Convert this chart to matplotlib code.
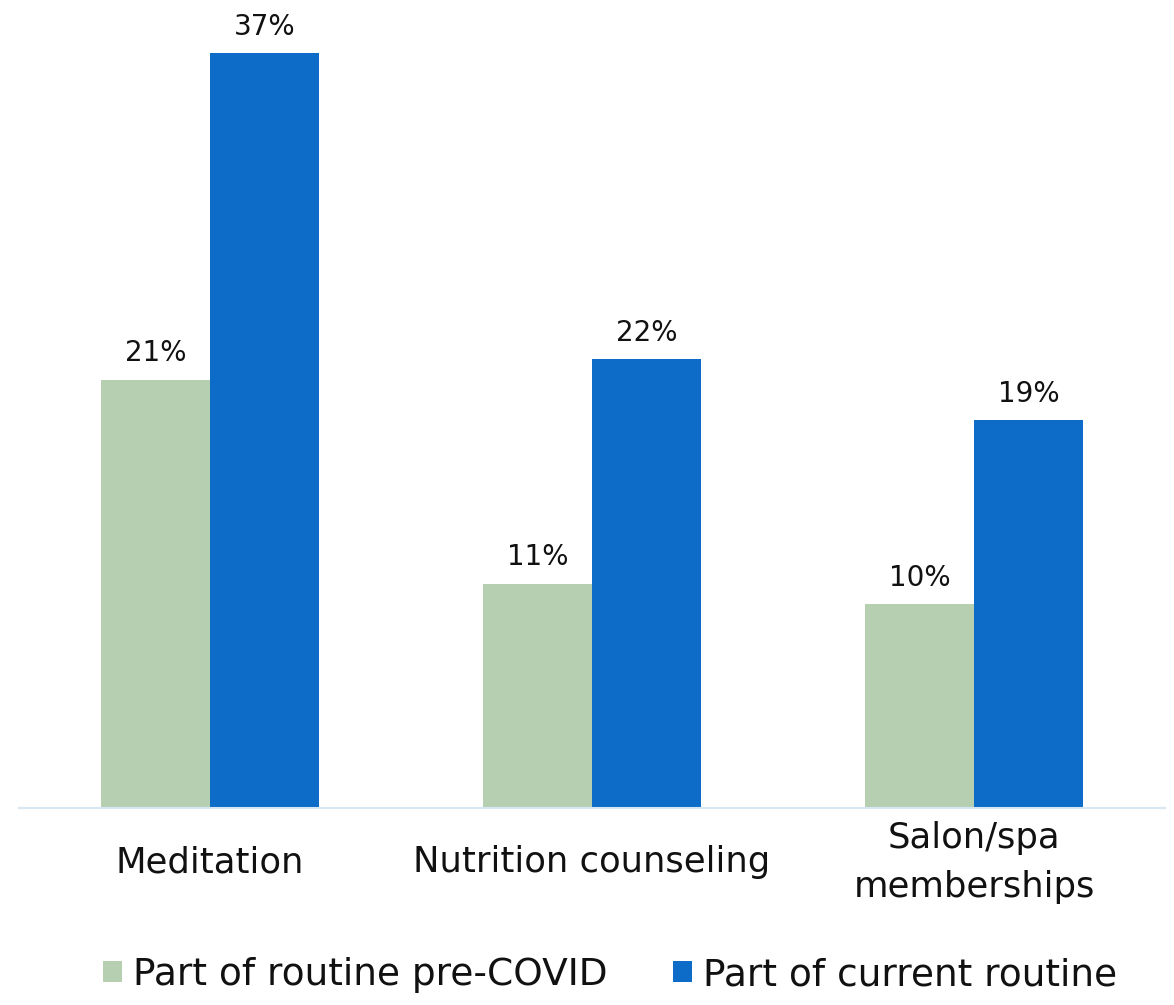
import matplotlib
matplotlib.use("Agg")
import matplotlib.pyplot as plt
import numpy as np
from matplotlib.patches import Patch

categories = ["Meditation", "Nutrition counseling", "Salon/spa\nmemberships"]
pre_covid = [21, 11, 10]
current = [37, 22, 19]
series_names = ["Part of routine pre-COVID", "Part of current routine"]

green = "#b5cfb0"
blue = "#0c6cc8"

plt.rcParams["font.family"] = ["DejaVu Sans"]

W, H = 1174, 1005
fig = plt.figure(figsize=(W / 100, H / 100), dpi=100)
ax = fig.add_axes([19 / W, 1 - 808 / H, 1146 / W, 808 / H])

x = np.arange(len(categories))
bw = 0.285
b1 = ax.bar(x - bw / 2, pre_covid, bw, color=green, label=series_names[0])
b2 = ax.bar(x + bw / 2, current, bw, color=blue, label=series_names[1])

for bars, vals in ((b1, pre_covid), (b2, current)):
    for rect, v in zip(bars, vals):
        ax.annotate(f"{v}%", (rect.get_x() + rect.get_width() / 2, v),
                    xytext=(0, 9), textcoords="offset points",
                    ha="center", va="bottom", fontsize=20, color="#111111")

ax.set_xlim(-0.5, len(categories) - 0.5)
ax.set_ylim(0, 808 / 20.4)
ax.set_yticks([])
ax.set_xticks(x)
ax.set_xticklabels(categories, fontsize=25.5, color="#111111", linespacing=1.55)
ax.tick_params(axis="x", length=0, pad=39)
for lab in ax.get_xticklabels():
    lab.set_verticalalignment("center")
for s in ("top", "right", "left"):
    ax.spines[s].set_visible(False)
ax.spines["bottom"].set_color("#d6e6f4")
ax.spines["bottom"].set_linewidth(1.5)

handles = [Patch(facecolor=green), Patch(facecolor=blue)]
fig.legend(handles, series_names, loc="center", bbox_to_anchor=(610 / W, 1 - 975 / H),
           ncol=2, frameon=False, fontsize=27, handlelength=0.5, handleheight=0.5,
           handletextpad=0.3, columnspacing=1.75, labelcolor="#111111")

fig.savefig("out.png", dpi=100)
